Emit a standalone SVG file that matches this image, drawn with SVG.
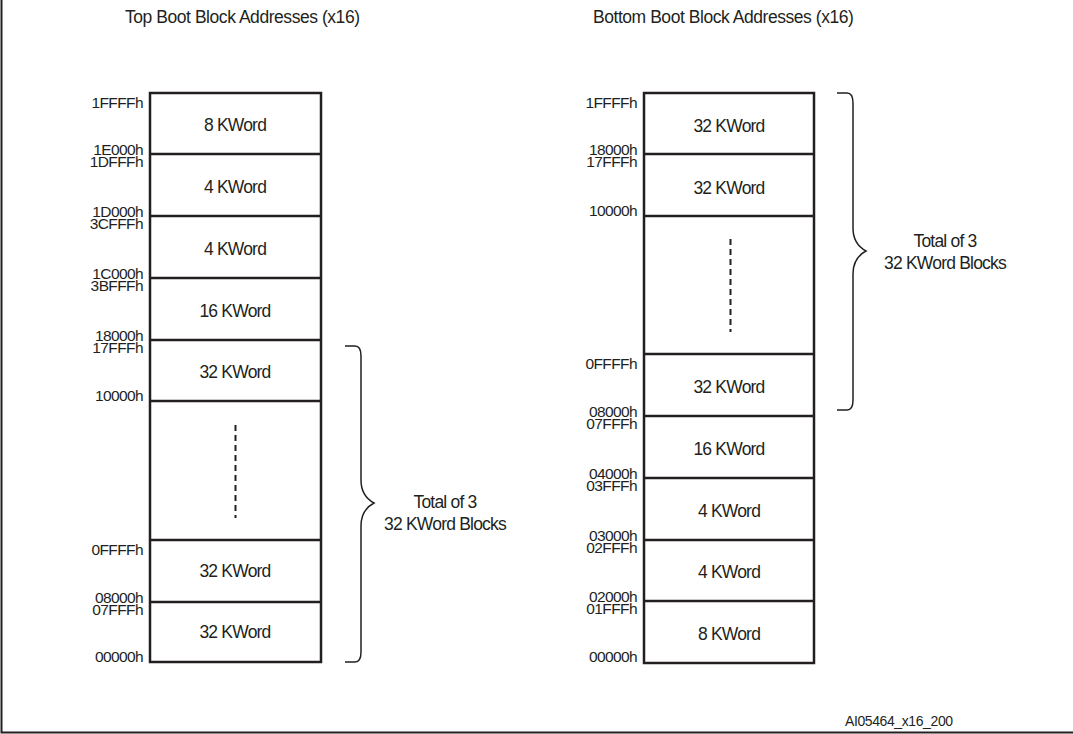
<svg xmlns="http://www.w3.org/2000/svg" width="1073" height="734" viewBox="0 0 1073 734">
<style>
.t{font-family:"Liberation Sans",Arial,sans-serif;fill:#231f20;}
.lbl{font-size:17.5px;text-anchor:middle;letter-spacing:-0.8px;}
.addr{font-size:15.5px;text-anchor:end;letter-spacing:-0.6px;}
.ttl{font-size:17.5px;letter-spacing:-0.45px;}
.foot{font-size:14px;letter-spacing:-0.4px;}
.box{fill:#fff;stroke:#231f20;stroke-width:2.5;}
.div{stroke:#231f20;stroke-width:2.5;}
.dash{stroke:#231f20;stroke-width:2;stroke-dasharray:6,4;}
.brace{fill:none;stroke:#231f20;stroke-width:1.5;}
</style>
<rect x="0" y="0" width="1073" height="734" fill="#fff"/>
<path d="M1.5 0 V732.5 H1073" fill="none" stroke="#231f20" stroke-width="2"/>

<text class="t ttl" x="125" y="23">Top Boot Block Addresses (x16)</text>
<text class="t ttl" x="593" y="23">Bottom Boot Block Addresses (x16)</text>

<g id="top-boot">
<rect class="box" x="150" y="93" width="171" height="569"/>
<line class="div" x1="150" y1="154" x2="321" y2="154"/>
<line class="div" x1="150" y1="216" x2="321" y2="216"/>
<line class="div" x1="150" y1="278" x2="321" y2="278"/>
<line class="div" x1="150" y1="340" x2="321" y2="340"/>
<line class="div" x1="150" y1="401" x2="321" y2="401"/>
<line class="div" x1="150" y1="540" x2="321" y2="540"/>
<line class="div" x1="150" y1="602" x2="321" y2="602"/>
<line class="dash" x1="235.5" y1="425" x2="235.5" y2="518"/>
<text class="t lbl" x="235" y="131">8 KWord</text>
<text class="t lbl" x="235" y="193">4 KWord</text>
<text class="t lbl" x="235" y="255">4 KWord</text>
<text class="t lbl" x="235" y="317">16 KWord</text>
<text class="t lbl" x="235" y="378">32 KWord</text>
<text class="t lbl" x="235" y="577">32 KWord</text>
<text class="t lbl" x="235" y="638">32 KWord</text>
<text class="t addr" x="143" y="108">1FFFFh</text>
<text class="t addr" x="143" y="155">1E000h</text>
<text class="t addr" x="143" y="167">1DFFFh</text>
<text class="t addr" x="143" y="217">1D000h</text>
<text class="t addr" x="143" y="229">3CFFFh</text>
<text class="t addr" x="143" y="279">1C000h</text>
<text class="t addr" x="143" y="291">3BFFFh</text>
<text class="t addr" x="143" y="341">18000h</text>
<text class="t addr" x="143" y="353">17FFFh</text>
<text class="t addr" x="143" y="401">10000h</text>
<text class="t addr" x="143" y="555">0FFFFh</text>
<text class="t addr" x="143" y="603">08000h</text>
<text class="t addr" x="143" y="615">07FFFh</text>
<text class="t addr" x="143" y="662">00000h</text>
</g>

<g id="bottom-boot">
<rect class="box" x="644" y="93" width="170" height="570"/>
<line class="div" x1="644" y1="154" x2="814" y2="154"/>
<line class="div" x1="644" y1="216" x2="814" y2="216"/>
<line class="div" x1="644" y1="354" x2="814" y2="354"/>
<line class="div" x1="644" y1="416" x2="814" y2="416"/>
<line class="div" x1="644" y1="478" x2="814" y2="478"/>
<line class="div" x1="644" y1="540" x2="814" y2="540"/>
<line class="div" x1="644" y1="601" x2="814" y2="601"/>
<line class="dash" x1="730.5" y1="239" x2="730.5" y2="332"/>
<text class="t lbl" x="729" y="132">32 KWord</text>
<text class="t lbl" x="729" y="194">32 KWord</text>
<text class="t lbl" x="729" y="393">32 KWord</text>
<text class="t lbl" x="729" y="455">16 KWord</text>
<text class="t lbl" x="729" y="517">4 KWord</text>
<text class="t lbl" x="729" y="578">4 KWord</text>
<text class="t lbl" x="729" y="640">8 KWord</text>
<text class="t addr" x="637" y="108">1FFFFh</text>
<text class="t addr" x="637" y="155">18000h</text>
<text class="t addr" x="637" y="167">17FFFh</text>
<text class="t addr" x="637" y="216">10000h</text>
<text class="t addr" x="637" y="369">0FFFFh</text>
<text class="t addr" x="637" y="417">08000h</text>
<text class="t addr" x="637" y="429">07FFFh</text>
<text class="t addr" x="637" y="479">04000h</text>
<text class="t addr" x="637" y="491">03FFFh</text>
<text class="t addr" x="637" y="541">03000h</text>
<text class="t addr" x="637" y="553">02FFFh</text>
<text class="t addr" x="637" y="602">02000h</text>
<text class="t addr" x="637" y="614">01FFFh</text>
<text class="t addr" x="637" y="662">00000h</text>
</g>

<g id="connectors">
<path class="brace" d="M345 346 H355 Q361 346 361 356 V480 Q361 496 374 503 Q361 510 361 526 V652 Q361 662 355 662 H345"/>
<path class="brace" d="M837 93 H847 Q853 93 853 103 V228 Q853 244 866 251 Q853 258 853 274 V400 Q853 410 847 410 H837"/>
</g>

<g id="brace-labels">
<text class="t lbl" x="445" y="508">Total of 3</text>
<text class="t lbl" x="445" y="530">32 KWord Blocks</text>
<text class="t lbl" x="945" y="247">Total of 3</text>
<text class="t lbl" x="945" y="269">32 KWord Blocks</text>
</g>

<text class="t foot" x="845" y="726">AI05464_x16_200</text>
</svg>
